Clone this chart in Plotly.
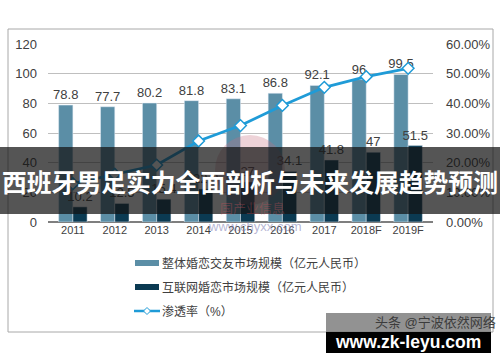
import plotly.graph_objects as go

years = ["2011", "2012", "2013", "2014", "2015", "2016", "2017", "2018F", "2019F"]
total_market = [78.8, 77.7, 80.2, 81.8, 83.1, 86.8, 92.1, 96, 99.5]
online_market = [10.2, 12.5, 15.4, 22.3, 27, 34.1, 41.8, 47, 51.5]
penetration = [0.129, 0.161, 0.192, 0.273, 0.325, 0.393, 0.454, 0.490, 0.518]

legend_names = ["整体婚恋交友市场规模（亿元人民币）", "互联网婚恋市场规模（亿元人民币）", "渗透率（%）"]
left_ticks = [0, 20, 40, 60, 80, 100, 120]
right_ticks = [0, 0.1, 0.2, 0.3, 0.4, 0.5, 0.6]

C_LIGHT = "#5b8ea6"
C_DARK = "#0b3a52"
C_LINE = "#1f9bd7"
TXT = "#404040"
FONT = "Liberation Sans, Noto Sans CJK SC, sans-serif"

# plot area pixels
PL, PR, PT, PB = 48, 433, 44, 222
def px(x):
    return (x - PL) / (PR - PL)
def py(y):
    return (PB - y) / (PB - PT)

fig = go.Figure()
fig.add_trace(go.Bar(x=years, y=total_market, name=legend_names[0], marker_color=C_LIGHT,
                     text=[str(v) for v in total_market], textposition="outside", constraintext="none",
                     textfont=dict(size=13, color=TXT), cliponaxis=False))
fig.add_trace(go.Bar(x=years, y=online_market, name=legend_names[1], marker_color=C_DARK,
                     text=[str(v) for v in online_market], textposition="outside", constraintext="none",
                     textfont=dict(size=13, color=TXT), cliponaxis=False))
fig.add_trace(go.Scatter(x=years, y=penetration, name=legend_names[2], yaxis="y2", mode="lines+markers",
                         line=dict(color=C_LINE, width=2.8),
                         marker=dict(symbol="diamond", size=9, color="white", line=dict(color=C_LINE, width=1.5))))

shapes = []
annotations = []

def note(x, y, text, size, color, family=FONT, xanchor="center"):
    annotations.append(dict(x=px(x), y=py(y), xref="paper", yref="paper", text=text, showarrow=False,
                            xanchor=xanchor, yanchor="middle", font=dict(size=size, color=color, family=family)))

# frame
shapes.append(dict(type="rect", xref="paper", yref="paper", x0=px(8), x1=px(493), y0=py(29), y1=py(332),
                   line=dict(color="#a8a8a8", width=1), fillcolor="rgba(0,0,0,0)", layer="below"))
# faint logo watermark
shapes.append(dict(type="circle", xref="paper", yref="paper", x0=px(215), x1=px(285), y0=py(205), y1=py(135),
                   line=dict(width=0), fillcolor="rgba(200,110,125,0.30)", layer="above"))
note(255, 226, "www.chyxx.com", 13, "rgba(120,120,175,0.55)")
note(253, 208, "国产业信息", 13, "rgba(200,80,90,0.35)")

# custom legend
leg_y = [263, 287, 311]
shapes.append(dict(type="rect", xref="paper", yref="paper", x0=px(135), x1=px(159), y0=py(266), y1=py(260),
                   line=dict(width=0), fillcolor=C_LIGHT))
shapes.append(dict(type="rect", xref="paper", yref="paper", x0=px(135), x1=px(159), y0=py(290), y1=py(284),
                   line=dict(width=0), fillcolor=C_DARK))
shapes.append(dict(type="line", xref="paper", yref="paper", x0=px(134), x1=px(160), y0=py(311), y1=py(311),
                   line=dict(color=C_LINE, width=2.5)))
shapes.append(dict(type="path", xref="paper", yref="paper",
                   path=f"M {px(147)},{py(307.5)} L {px(150.5)},{py(311)} L {px(147)},{py(314.5)} L {px(143.5)},{py(311)} Z",
                   line=dict(color=C_LINE, width=1), fillcolor="white"))
for name, yy in zip(legend_names, leg_y):
    note(160, yy, name, 12, TXT, xanchor="left")

# banner overlay
shapes.append(dict(type="rect", xref="paper", yref="paper", x0=px(-2), x1=px(502), y0=py(214), y1=py(147),
                   line=dict(width=0), fillcolor="rgba(20,20,20,0.72)", layer="above"))
note(250, 181, "<b>西班牙男足实力全面剖析与未来发展趋势预测</b>", 24.8, "white", family="Noto Sans CJK SC")

# bottom watermarks
shapes.append(dict(type="rect", xref="paper", yref="paper", x0=px(326), x1=px(491), y0=py(332), y1=py(313),
                   line=dict(width=0), fillcolor="rgba(110,110,110,0.75)", layer="above"))
shapes.append(dict(type="rect", xref="paper", yref="paper", x0=px(326), x1=px(491), y0=py(353), y1=py(332),
                   line=dict(width=0), fillcolor="black", layer="above"))
note(435, 322, "头条 @宁波依然网络", 13, "#3c3c3c")
note(408, 342, "<b>www.zk-leyu.com</b>", 17.5, "white", family="Liberation Sans")

fig.update_layout(
    width=500, height=362,
    margin=dict(l=PL, r=500 - PR, t=PT, b=362 - PB, autoexpand=False),
    paper_bgcolor="white", plot_bgcolor="white",
    font=dict(family=FONT, color=TXT),
    showlegend=False,
    barmode="group", bargap=0.32, bargroupgap=0,
    xaxis=dict(tickfont=dict(size=11, color=TXT), showline=False, ticks="", showgrid=False, automargin=False),
    yaxis=dict(range=[0, 120], tickvals=left_ticks, tickfont=dict(size=13, color=TXT),
               showgrid=True, gridcolor="#bfbfbf", gridwidth=1, zeroline=True, zerolinecolor="#7f7f7f",
               ticks="", ticklabelstandoff=10, showline=False, automargin=False),
    yaxis2=dict(range=[0, 0.6], tickvals=right_ticks, tickformat=".2%", overlaying="y", side="right",
                tickfont=dict(size=13, color=TXT), showgrid=False, zeroline=False, ticks="",
                ticklabelstandoff=12, showline=False, automargin=False),
    shapes=shapes, annotations=annotations,
)
fig.write_html("out.html", config={"displayModeBar": False},
               post_script="document.body.style.margin='0';document.body.style.padding='0';")
